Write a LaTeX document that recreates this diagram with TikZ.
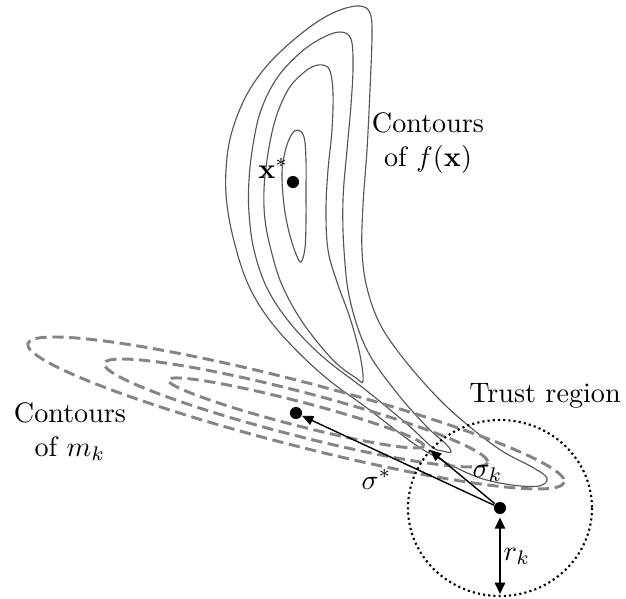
\documentclass[tikz,border=0pt]{standalone}
\usepackage{amsmath}
\usepackage{tikz}
\usetikzlibrary{arrows.meta,calc}
\definecolor{ink}{HTML}{000000}
\definecolor{level}{HTML}{555555}
\definecolor{model}{HTML}{858585}

\begin{document}
\begin{tikzpicture}[
  x=0.355pt,y=-0.355pt,
  dot/.style={circle,fill=ink,inner sep=0pt,minimum size=4.3pt},
  lbl/.style={inner sep=0pt,text=ink},
  fcont/.style={draw=level,line width=0.4pt},
  mcont/.style={draw=model,line width=1.05pt,dash pattern=on 4pt off 2pt},
  trust/.style={draw=ink,line width=0.75pt,dash pattern=on 0.75pt off 1.1pt},
  arr/.style={-{Triangle[length=4pt,width=3.4pt]},line width=0.5pt,color=ink},
  darr/.style={{Triangle[length=4pt,width=3.6pt]}-{Triangle[length=4pt,width=3.6pt]},line width=0.7pt,color=ink}
]
\useasboundingbox (0,0) rectangle (626,599);
\draw[fcont] plot[smooth cycle,tension=0.6] coordinates {(360,6) (370,13) (372,35) (370,90) (367,150) (363,205) (362,250) (367,288) (381,326) (407,363) (440,400) (470,427) (502,451) (532,467) (547,478) (539,486) (512,485) (480,478) (447,463) (413,443) (367,408) (330,381) (297,351) (268,318) (248,284) (235,245) (227,205) (226,170) (231,135) (245,98) (265,68) (290,43) (317,22) (340,10)};
\draw[fcont] plot[smooth cycle,tension=0.6] coordinates {(340,32) (351,39) (353,67) (351,105) (347,150) (343,200) (344,250) (350,300) (367,350) (397,393) (427,427) (446,444) (451,452) (443,451) (432,447) (407,424) (367,391) (323,357) (290,323) (267,288) (254,250) (249,213) (249,180) (253,145) (261,110) (277,78) (300,53) (322,38)};
\draw[fcont] plot[smooth cycle,tension=0.6] coordinates {(323,65) (330,71) (333,93) (332,130) (328,170) (326,210) (328,250) (337,282) (350,318) (360,355) (363,381) (356,378) (333,360) (303,323) (282,285) (271,250) (265,220) (264,190) (267,160) (273,128) (281,104) (292,84) (310,68)};
\draw[fcont] plot[smooth cycle,tension=0.6] coordinates {(298,130) (304,137) (306,160) (306,190) (306,220) (305,248) (301,262) (296,254) (289,232) (284,205) (282,172) (286,148) (292,134)};

\node[dot] (xstar) at (293,182) {};
\node[dot] (sstar) at (296,413) {};
\node[dot] (xk) at (500,508) {};
\coordinate (sk) at (430,450);
\coordinate (rb) at (500,594);

\draw[mcont,rotate around={-14.5:(sstar.center)}] (sstar.center) ellipse [x radius=277,y radius=32];
\draw[mcont,rotate around={-14.5:(sstar.center)}] (sstar.center) ellipse [x radius=198,y radius=22];
\draw[mcont,rotate around={-14.5:(sstar.center)}] (sstar.center) ellipse [x radius=132,y radius=12];

\draw[trust] (xk.center) ellipse [x radius=92,y radius=88];
\draw[arr] (xk) -- (sstar);
\draw[arr] (xk) -- (sk);
\draw[darr,shorten <=1pt] (xk) -- (rb);

\node[lbl,anchor=base east] (xlbl) at (289,178) {$\mathbf{x}^*$};
\node[lbl,align=center] (flbl) at (428,143) {Contours\\ of $f(\mathbf{x})$};
\node[lbl,align=center] (mlbl) at (70,432) {Contours\\ of $m_k$};
\node[lbl,anchor=base] (tlbl) at (545,402) {Trust region};
\node[lbl,anchor=base west] (slbl) at (361,489) {$\sigma^*$};
\node[lbl,anchor=base west] (klbl) at (472,477) {$\sigma_k$};
\node[lbl,anchor=base west] (rlbl) at (503,560) {$r_k$};
\end{tikzpicture}
\end{document}
